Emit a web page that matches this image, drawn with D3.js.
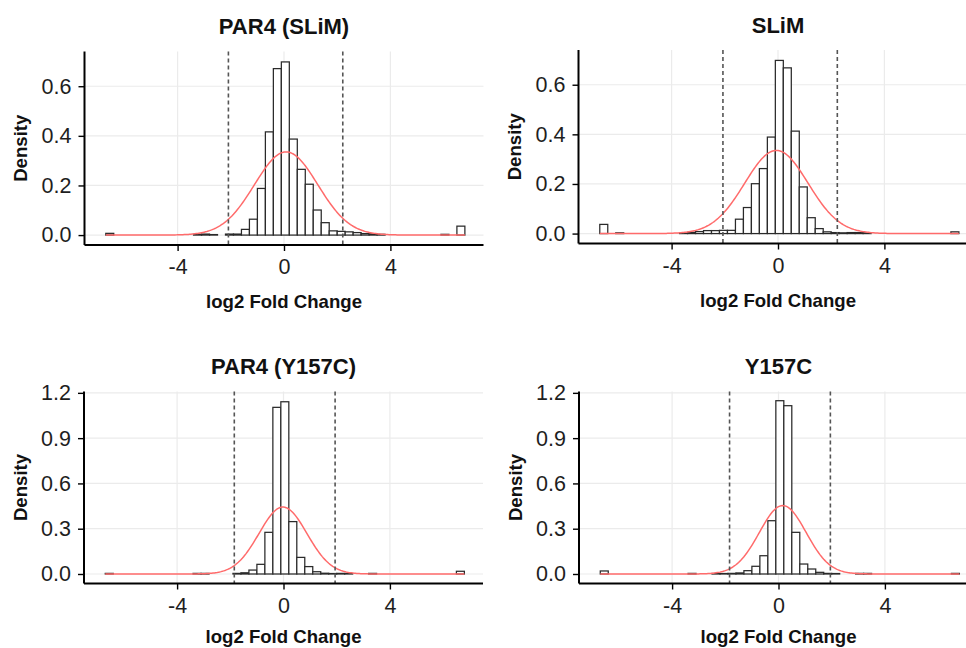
<!DOCTYPE html>
<html>
<head>
<meta charset="utf-8">
<script src="https://cdn.jsdelivr.net/npm/d3@7"></script>
<style>
    body { margin: 0; background: #fff; }
    svg { display: block; font-family: "Liberation Sans", Arial, sans-serif; }
    .grid line { stroke: #ebebeb; stroke-width: 1.2; }
    .axis path, .axis line { stroke: #000; }
    .axis path { stroke-width: 2; }
    .axis line { stroke-width: 1.4; }
    .axis text { font-size: 21.5px; fill: #1e1e1e; }
    .bar { fill: #fff; stroke: #2a2a2a; stroke-width: 1.25; }
    .fit { fill: none; stroke: #ff6b6b; stroke-width: 1.5; }
    .cutoff { stroke: #555; stroke-width: 1.6; stroke-dasharray: 4 3; }
    .title { font-size: 22px; font-weight: bold; fill: #111; }
    .axis-title { font-size: 18.6px; font-weight: bold; fill: #111; }
</style>
</head>
<body>
<div id="chart"></div>
<script>

// histogram bins: left edge of first bin and bin width (log2 fold change)
const binStart = -6.7;
const binWidth = 0.3;

const titles = ['PAR4 (SLiM)', 'SLiM', 'PAR4 (Y157C)', 'Y157C'];

const densityPar4Slim = [
    0.007, 0, 0, 0, 0, 0, 0, 0, 0, 0,
    0, 0.003, 0.004, 0.002, 0, 0.004, 0.004, 0.023, 0.064, 0.188,
    0.416, 0.671, 0.698, 0.387, 0.265, 0.205, 0.101, 0.050, 0.017, 0.015,
    0.013, 0.010, 0.006, 0.005, 0.003, 0, 0, 0, 0, 0,
    0, 0, 0.003, 0, 0.036
];

const densitySlim = [
    0.037, 0, 0.003, 0, 0, 0, 0, 0, 0, 0,
    0.003, 0.005, 0.008, 0.012, 0.012, 0.013, 0.013, 0.058, 0.105, 0.201,
    0.262, 0.389, 0.698, 0.668, 0.413, 0.188, 0.064, 0.020, 0.007, 0.004,
    0.003, 0.004, 0.004, 0.003, 0, 0, 0, 0, 0, 0,
    0, 0, 0, 0, 0.007
];

const densityPar4Y157C = [
    0.004, 0, 0, 0, 0, 0, 0, 0, 0, 0,
    0, 0.004, 0.004, 0, 0, 0, 0.004, 0.008, 0.026, 0.064,
    0.276, 1.104, 1.141, 0.347, 0.110, 0.049, 0.015, 0.005, 0.003, 0.004,
    0.003, 0, 0, 0.004, 0, 0, 0, 0, 0, 0,
    0, 0, 0, 0, 0.018
];

const densityY157C = [
    0.020, 0, 0, 0, 0, 0, 0, 0, 0, 0,
    0, 0.004, 0, 0, 0.003, 0.003, 0.004, 0.007, 0.022, 0.051,
    0.121, 0.353, 1.148, 1.115, 0.276, 0.066, 0.033, 0.011, 0.004, 0.003,
    0, 0, 0.004, 0.004, 0, 0, 0, 0, 0, 0,
    0, 0, 0, 0, 0.004
];

// fitted normal curve (red) and dashed cutoffs
const fitMeans = [0.08, -0.06, -0.02, 0.16];
const fitSds = [1.19, 1.19, 0.90, 0.88];
const cutoffs = [[-2.09, 2.21], [-2.07, 2.23], [-1.85, 1.94], [-1.84, 1.95]];

const xTicks = [-4, 0, 4];
const yTicksTop = [0, 0.2, 0.4, 0.6];
const yTicksBottom = [0, 0.3, 0.6, 0.9, 1.2];


class HistPanel {

    constructor(config) {
        this._config = config;
        this._box = config.box;
    }

    renderTo(svg) {

        var box = this._box;
        var cfg = this._config;

        var x = d3.scaleLinear().domain([-7.5, 7.5]).range([box.left, box.right]);
        var y = d3.scaleLinear().domain(cfg.yDomain).range([box.bottom, box.top]);

        var g = svg.append('g').attr('class', 'panel');

        var grid = g.append('g').attr('class', 'grid');

        grid.selectAll('line.h')
            .data(cfg.yTicks)
            .enter()
            .append('line')
            .attr('x1', box.left).attr('x2', box.right)
            .attr('y1', d => y(d)).attr('y2', d => y(d));

        grid.selectAll('line.v')
            .data(xTicks)
            .enter()
            .append('line')
            .attr('x1', d => x(d)).attr('x2', d => x(d))
            .attr('y1', box.top).attr('y2', box.bottom);

        var bins = cfg.density
            .map((d, i) => ({ x0: binStart + i * binWidth, value: d }))
            .filter(d => d.value > 0);

        g.selectAll('rect.bar')
            .data(bins)
            .enter()
            .append('rect')
            .attr('class', 'bar')
            .attr('x', d => x(d.x0))
            .attr('width', d => x(d.x0 + binWidth) - x(d.x0))
            .attr('y', d => y(d.value))
            .attr('height', d => y(0) - y(d.value));

        var mean = cfg.mean, sd = cfg.sd;
        var curve = d3.range(-6.7, 6.8001, 0.05).map(v => ({
            v: v,
            p: Math.exp(-0.5 * Math.pow((v - mean) / sd, 2)) / (sd * Math.sqrt(2 * Math.PI))
        }));

        g.append('path')
            .datum(curve)
            .attr('class', 'fit')
            .attr('d', d3.line().x(d => x(d.v)).y(d => y(d.p)));

        g.selectAll('line.cutoff')
            .data(cfg.cutoffs)
            .enter()
            .append('line')
            .attr('class', 'cutoff')
            .attr('x1', d => x(d)).attr('x2', d => x(d))
            .attr('y1', box.top).attr('y2', box.bottom);

        var xAxis = g.append('g')
            .attr('class', 'axis')
            .attr('transform', 'translate(0,' + box.bottom + ')')
            .call(d3.axisBottom(x).tickValues(xTicks).tickSize(6).tickSizeOuter(0).tickPadding(8)
                .tickFormat(d => d === 0 ? '0' : d3.format('d')(d).replace('−', '-')));

        var yAxis = g.append('g')
            .attr('class', 'axis')
            .attr('transform', 'translate(' + box.left + ',0)')
            .call(d3.axisLeft(y).tickValues(cfg.yTicks).tickSize(6).tickSizeOuter(0).tickPadding(7)
                .tickFormat(d3.format('.1f')));

        xAxis.select('.domain').attr('d', 'M' + box.left + ',0H' + box.right);
        yAxis.select('.domain').attr('d', 'M0,' + box.top + 'V' + box.bottom);

        g.append('text')
            .attr('class', 'title')
            .attr('x', (box.left + box.right) / 2)
            .attr('y', box.top - 17.5)
            .attr('text-anchor', 'middle')
            .text(cfg.title);

        // bottom row sits at the page edge, nudge its axis title up so it stays whole
        g.append('text')
            .attr('class', 'axis-title')
            .attr('x', (box.left + box.right) / 2)
            .attr('y', Math.min(box.bottom + 63, 643))
            .attr('text-anchor', 'middle')
            .text('log2 Fold Change');

        g.append('text')
            .attr('class', 'axis-title')
            .attr('transform', 'translate(' + (box.left - 57.5) + ',' + ((box.top + box.bottom) / 2) + ') rotate(-90)')
            .attr('text-anchor', 'middle')
            .text('Density');

        return this;
    }
}


var svg = d3.select('#chart')
    .append('svg')
    .attr('width', 966)
    .attr('height', 648);

var panels = [
    { box: { left: 84.5, right: 483.5, top: 51.5, bottom: 245 }, yDomain: [-0.04, 0.74], yTicks: yTicksTop, density: densityPar4Slim },
    { box: { left: 578.5, right: 977.5, top: 50, bottom: 243.5 }, yDomain: [-0.04, 0.74], yTicks: yTicksTop, density: densitySlim },
    { box: { left: 84, right: 483, top: 391.5, bottom: 583.5 }, yDomain: [-0.063, 1.209], yTicks: yTicksBottom, density: densityPar4Y157C },
    { box: { left: 579, right: 978, top: 391.5, bottom: 583.5 }, yDomain: [-0.063, 1.209], yTicks: yTicksBottom, density: densityY157C }
];

panels.forEach(function(p, i) {
    p.title = titles[i];
    p.mean = fitMeans[i];
    p.sd = fitSds[i];
    p.cutoffs = cutoffs[i];
    new HistPanel(p).renderTo(svg);
});

</script>
</body>
</html>
